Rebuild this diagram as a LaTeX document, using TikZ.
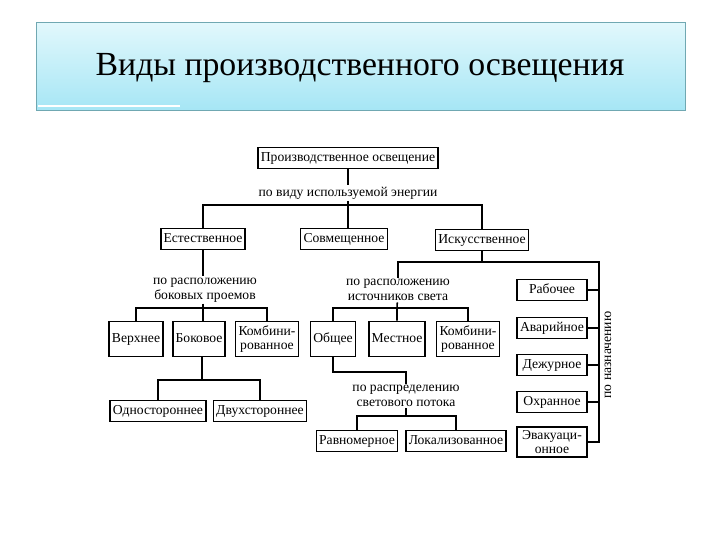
\documentclass[tikz,border=0pt]{standalone}
\usepackage{fontspec}
\setmainfont{Liberation Serif}
\usetikzlibrary{positioning}
\definecolor{titletop}{RGB}{226,248,252}
\definecolor{titlebot}{RGB}{166,230,245}
\definecolor{titleline}{RGB}{112,168,178}
\tikzset{
  blok/.style={draw, line width=1.1pt, inner xsep=2pt, inner ysep=2pt,
    minimum height=15pt, align=center, font=\fontsize{9.7}{10.5}\selectfont},
  stroka/.style={text height=7pt, text depth=2pt},
  blok1/.style={blok, stroka},
  vysokiy/.style={blok, minimum height=25pt},
  naznach/.style={blok, minimum width=50pt},
  podpis/.style={inner sep=1pt, align=center, font=\fontsize{9.7}{10.5}\selectfont},
  svyaz/.style={line width=1.1pt}
}
\begin{document}
\begin{tikzpicture}[x=0.025cm, y=-0.025cm]
\useasboundingbox (0,0) rectangle (720,540);
% заголовок
\draw[titleline, top color=titletop, bottom color=titlebot] (36,22) rectangle (685,110);
\draw[white, line width=1.2pt] (38,106) -- (180,106);
\node[font=\fontsize{24}{28}\selectfont] (zag) at (360,68) {Виды производственного освещения};

\node[blok1] (prom) at (348,158) {Производственное освещение};
\node[podpis] (vid) at (348,193) {по виду используемой энергии};
\node[blok1] (est) at (203,239) {Естественное};
\node[blok1] (sovm) at (344,239) {Совмещенное};
\node[blok1] (isk) at (482,240) {Искусственное};

\node[podpis] (bok) at (205,290) {по расположению\\боковых проемов};
\node[podpis] (ist) at (398,290) {по расположению\\источников света};
\node[vysokiy, stroka] (verh) at (136,339) {Верхнее};
\node[vysokiy, stroka] (bokovoe) at (199,339) {Боковое};
\node[vysokiy] (komb1) at (267,339) {Комбини-\\рованное};
\node[vysokiy, stroka] (obsh) at (333,339) {Общее};
\node[vysokiy, stroka] (mest) at (397,339) {Местное};
\node[vysokiy] (komb2) at (468,339) {Комбини-\\рованное};

\node[blok1] (odno) at (158,411) {Одностороннее};
\node[blok1] (dvuh) at (260,411) {Двухстороннее};
\node[podpis] (rasp) at (406,396) {по распределению\\светового потока};
\node[blok1] (ravn) at (357,441) {Равномерное};
\node[blok1] (lok) at (456,441) {Локализованное};

% по назначению
\node[naznach, stroka] (rab) at (552,290) {Рабочее};
\node[naznach, stroka] (avar) at (552,328) {Аварийное};
\node[naznach, stroka] (dezh) at (552,365) {Дежурное};
\node[naznach, stroka] (ohr) at (552,402) {Охранное};
\node[naznach] (evak) at (552,442) {Эвакуаци-\\онное};
\node[podpis, rotate=90] (nazn) at (608,355) {по назначению};

% связи
\coordinate (v1) at (348,205);
\draw[svyaz] (prom) -- (vid);
\draw[svyaz] (est.north) |- (v1) -| (isk.north);
\draw[svyaz] (vid) -- (v1) -- (v1 |- sovm.north);

\coordinate (b1) at (203,308);
\draw[svyaz] (est.south) -- (est.south |- bok.north);
\draw[svyaz] (verh.north) |- (b1) -| (komb1.north);
\draw[svyaz] (b1 |- bok.south) -- (b1) -- (b1 |- bokovoe.north);
\coordinate (b2) at (202,380);
\draw[svyaz] (b2 |- bokovoe.south) -- (b2);
\draw[svyaz] (odno.north) |- (b2) -| (dvuh.north);

\coordinate (r1) at (599,262);
\draw[svyaz] (isk) -- (isk |- r1);
\draw[svyaz] (ist.north) |- (r1) -- (r1 |- evak.east) -- (evak.east);
\foreach \n in {rab,avar,dezh,ohr}
  \draw[svyaz] (\n.east) -- (\n.east -| r1);

\coordinate (s1) at (397,308);
\draw[svyaz] (obsh.north) |- (s1) -| (komb2.north);
\draw[svyaz] (ist) -- (s1) -- (s1 |- mest.north);
\coordinate (o1) at (406,372);
\draw[svyaz] (obsh.south) |- (o1) -- (rasp.north);
\coordinate (r2) at (406,416);
\draw[svyaz] (rasp) -- (r2);
\draw[svyaz] (ravn.north) |- (r2) -| (lok.north);
\end{tikzpicture}
\end{document}
